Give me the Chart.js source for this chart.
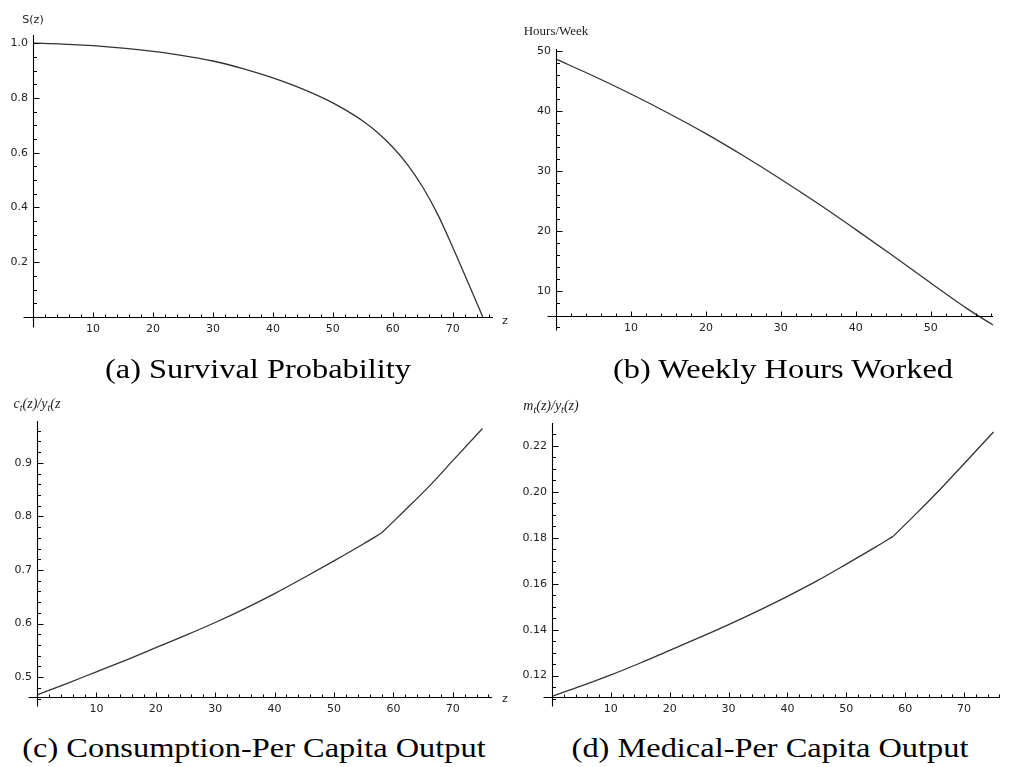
<!DOCTYPE html>
<html>
<head>
<meta charset="utf-8">
<script src="https://cdn.jsdelivr.net/npm/chart.js@4"></script>
<style>
    body { margin: 0; background: #fff; }
    #page { position: relative; width: 1011px; height: 767px; overflow: hidden; background: #fff; }
    canvas { position: absolute; }
    .cap { position: absolute; font-family: "Liberation Serif", serif; font-size: 27px; line-height: 27px; white-space: nowrap; transform: translateX(-50%) scaleX(1.2); color: #000; }
    .lbl { position: absolute; font-family: "DejaVu Sans", sans-serif; font-size: 11px; line-height: 13px; color: #222; white-space: nowrap; }
    .mid { transform: translateX(-50%); }
    .serif { font-family: "Liberation Serif", serif; font-size: 13px; line-height: 15px; color: #222; }
    .ital { font-style: italic; font-size: 14px; }
    .ital sub { font-size: 10px; vertical-align: -3px; line-height: 0; }
</style>
</head>
<body>
<div id="page">
    <canvas id="chartA" width="505" height="345" style="left:0;top:0"></canvas>
    <canvas id="chartB" width="506" height="345" style="left:505px;top:0"></canvas>
    <canvas id="chartC" width="505" height="345" style="left:0;top:380px"></canvas>
    <canvas id="chartD" width="506" height="345" style="left:505px;top:380px"></canvas>

    <div class="lbl mid" style="left:33px;top:13px">S(z)</div>
    <div class="lbl" style="left:502px;top:314px">z</div>
    <div class="lbl mid serif" style="left:556px;top:23px">Hours/Week</div>
    <div class="lbl mid serif ital" style="left:37px;top:396px">c<sub>t</sub>(z)/y<sub>t</sub>(z</div>
    <div class="lbl" style="left:502px;top:692px">z</div>
    <div class="lbl mid serif ital" style="left:551px;top:398px">m<sub>t</sub>(z)/y<sub>t</sub>(z)</div>

    <div class="cap" style="left:258px;top:356px">(a) Survival Probability</div>
    <div class="cap" style="left:783px;top:356px">(b) Weekly Hours Worked</div>
    <div class="cap" style="left:254px;top:735px">(c) Consumption-Per Capita Output</div>
    <div class="cap" style="left:770px;top:735px">(d) Medical-Per Capita Output</div>
</div>

<script>
// (a) survival probability
const ageSurvival = [0, 5, 10, 15, 20, 25, 30, 35, 40, 45, 50, 52.5, 55, 57.5, 60, 62.5, 65, 67.5, 70, 72.5, 75];
const survival = [1.0, 0.997, 0.991, 0.982, 0.970, 0.955, 0.935, 0.907, 0.873, 0.832, 0.782, 0.751, 0.716, 0.673, 0.620, 0.555, 0.474, 0.374, 0.254, 0.128, 0.0];

// (b) weekly hours worked
const ageHours = [0, 5, 10, 15, 20, 25, 30, 35, 40, 45, 50, 55, 58.3];
const hoursWorked = [48.6, 45.8, 42.8, 39.6, 36.2, 32.5, 28.6, 24.5, 20.2, 15.8, 11.3, 6.9, 4.3];

// (c) and (d): working years, then retirement
const ageWork = [0, 5, 10, 15, 20, 25, 30, 35, 40, 45, 50, 55, 58];
const ageRetired = [58, 62, 66, 70, 75];
const consumptionWork = [0.467, 0.488, 0.510, 0.532, 0.555, 0.578, 0.602, 0.628, 0.656, 0.686, 0.717, 0.749, 0.769];
const consumptionRetired = [0.769, 0.812, 0.856, 0.904, 0.964];
const medicalWork = [0.111, 0.1155, 0.1203, 0.1255, 0.131, 0.1365, 0.1422, 0.1482, 0.1545, 0.1612, 0.1685, 0.176, 0.1807];
const medicalRetired = [0.1807, 0.1908, 0.2012, 0.2122, 0.226];

// tick labels
const zTicksLong = [10, 20, 30, 40, 50, 60, 70];
const zTicksShort = [10, 20, 30, 40, 50];
const survivalTicks = [0.2, 0.4, 0.6, 0.8, 1.0];
const hoursTicks = [10, 20, 30, 40, 50];
const consumptionTicks = [0.5, 0.6, 0.7, 0.8, 0.9];
const medicalTicks = [0.12, 0.14, 0.16, 0.18, 0.20, 0.22];

const tickFont = { family: "DejaVu Sans", size: 11 };
const tickColor = "#222";

// Mathematica-style axes: crossing lines, inward major and minor ticks
const mathAxes = {
    id: "mathAxes",
    afterDraw(chart, args, opts) {
        const { ctx } = chart;
        const xs = chart.scales.x;
        const ys = chart.scales.y;
        const ox = Math.round(xs.getPixelForValue(0)) + 0.5;
        const oy = Math.round(ys.bottom) + 0.5;
        const right = xs.getPixelForValue(xs.max);
        const top = ys.getPixelForValue(ys.max);

        ctx.save();
        ctx.strokeStyle = "#000";
        ctx.lineWidth = 1.1;
        ctx.beginPath();
        ctx.moveTo(ox - opts.extX, oy);
        ctx.lineTo(right, oy);
        ctx.moveTo(ox, oy + opts.extY);
        ctx.lineTo(ox, top);
        ctx.stroke();

        const isMajor = (v, ticks) => ticks.some((t) => Math.abs(t - v) < 1e-9);
        const xMajors = xs.ticks.map((t) => t.value);
        const yMajors = ys.ticks.map((t) => t.value);

        ctx.lineWidth = 1;
        ctx.beginPath();
        for (let i = 1; i * opts.minorX <= xs.max + 1e-9; i++) {
            const v = i * opts.minorX;
            const px = Math.round(xs.getPixelForValue(v)) + 0.5;
            const len = isMajor(v, xMajors) ? 5 : 3;
            ctx.moveTo(px, oy);
            ctx.lineTo(px, oy - len);
        }
        const yLow = ys.getValueForPixel(oy + opts.extY);
        for (let i = Math.ceil(yLow / opts.minorY - 1e-9); i * opts.minorY <= ys.max + 1e-9; i++) {
            const v = i * opts.minorY;
            const py = Math.round(ys.getPixelForValue(v)) + 0.5;
            if (Math.abs(py - oy) < 1.5) {
                continue;
            }
            const len = isMajor(v, yMajors) ? 6 : 3.5;
            ctx.moveTo(ox, py);
            ctx.lineTo(ox + len, py);
        }
        ctx.stroke();
        ctx.restore();
    },
};

function toPoints(xs, ys) {
    return xs.map((x, i) => ({ x: x, y: ys[i] }));
}

function buildPanel(canvasId, cfg) {
    const canvas = document.getElementById(canvasId);
    const datasets = cfg.series.map((s) => ({
        data: toPoints(s[0], s[1]),
        borderColor: "#333",
        borderWidth: 1.3,
        pointRadius: 0,
        fill: false,
        clip: false,
        cubicInterpolationMode: "monotone",
    }));

    new Chart(canvas, {
        type: "line",
        data: { datasets: datasets },
        options: {
            responsive: false,
            animation: false,
            devicePixelRatio: 1,
            layout: { padding: { left: 0, right: cfg.padRight, top: cfg.padTop, bottom: 0 } },
            plugins: {
                legend: { display: false },
                tooltip: { enabled: false },
                mathAxes: { extX: cfg.extX, extY: cfg.extY, minorX: 2, minorY: cfg.minorY },
            },
            scales: {
                x: {
                    type: "linear",
                    min: 0,
                    max: cfg.xMax,
                    grid: { display: false, drawTicks: false },
                    border: { display: false },
                    afterFit: (scale) => { scale.height = cfg.xHeight; },
                    afterBuildTicks: (scale) => { scale.ticks = cfg.xTicks.map((v) => ({ value: v })); },
                    ticks: {
                        font: tickFont,
                        color: tickColor,
                        padding: 6,
                        maxRotation: 0,
                        autoSkip: false,
                        callback: (v) => String(v),
                    },
                },
                y: {
                    type: "linear",
                    min: cfg.yMin,
                    max: cfg.yMax,
                    grid: { display: false, drawTicks: false },
                    border: { display: false },
                    afterFit: (scale) => { scale.width = cfg.yWidth; },
                    afterBuildTicks: (scale) => { scale.ticks = cfg.yTicks.map((v) => ({ value: v })); },
                    ticks: {
                        font: tickFont,
                        color: tickColor,
                        padding: 5,
                        autoSkip: false,
                        callback: (v) => v.toFixed(cfg.decimals),
                    },
                },
            },
        },
        plugins: [mathAxes],
    });
}

buildPanel("chartA", {
    series: [[ageSurvival, survival]],
    xMax: 76.7, yMin: 0, yMax: 1.03,
    xTicks: zTicksLong, yTicks: survivalTicks, decimals: 1, minorY: 0.05,
    yWidth: 33, xHeight: 28, padRight: 12, padTop: 35, extX: 10, extY: 10,
});

buildPanel("chartB", {
    series: [[ageHours, hoursWorked]],
    xMax: 58.3, yMin: 5.8, yMax: 50.3,
    xTicks: zTicksShort, yTicks: hoursTicks, decimals: 0, minorY: 2,
    yWidth: 51, xHeight: 29, padRight: 18, padTop: 49, extX: 9, extY: 14,
});

buildPanel("chartC", {
    series: [[ageWork, consumptionWork], [ageRetired, consumptionRetired]],
    xMax: 76.6, yMin: 0.463, yMax: 0.978,
    xTicks: zTicksLong, yTicks: consumptionTicks, decimals: 1, minorY: 0.02,
    yWidth: 37, xHeight: 28, padRight: 13, padTop: 41, extX: 9, extY: 9,
});

buildPanel("chartD", {
    series: [[ageWork, medicalWork], [ageRetired, medicalRetired]],
    xMax: 76.1, yMin: 0.1107, yMax: 0.2299,
    xTicks: zTicksLong, yTicks: medicalTicks, decimals: 2, minorY: 0.005,
    yWidth: 47, xHeight: 28, padRight: 11, padTop: 43, extX: 9, extY: 9,
});
</script>
</body>
</html>
